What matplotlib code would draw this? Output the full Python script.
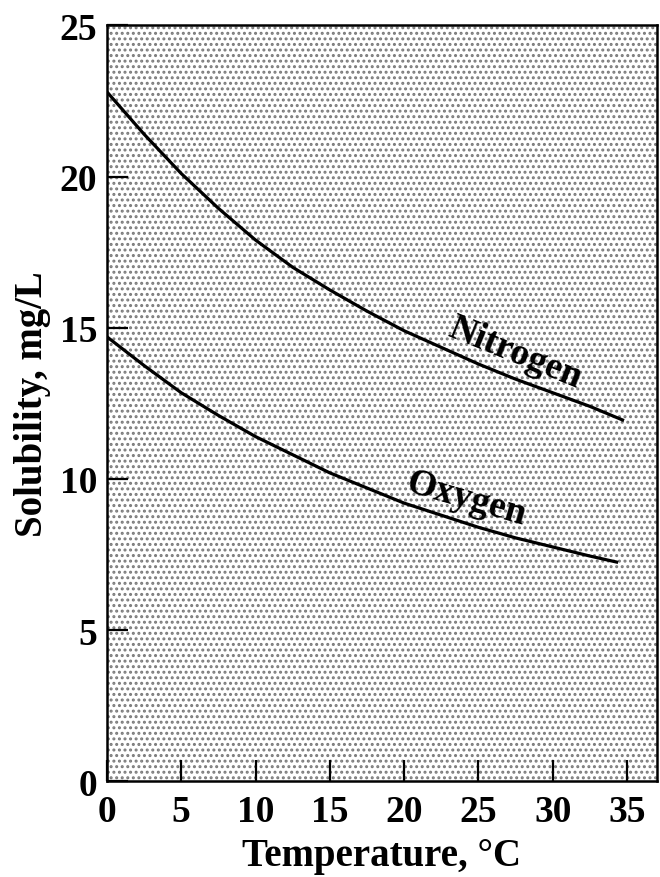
import numpy as np
import matplotlib
matplotlib.use('Agg')
import matplotlib.pyplot as plt
from matplotlib.patches import Rectangle

# values
temp_n = [0, 2.5, 5, 7.5, 10, 12.5, 15, 17.5, 20, 22.5, 25, 27.5, 30, 32.5, 34.7]
nitrogen = [22.8, 21.4, 20.1, 18.95, 17.9, 17.0, 16.25, 15.55, 14.9, 14.35, 13.8, 13.3, 12.85, 12.4, 11.95]
temp_o = [0, 2.5, 5, 7.5, 10, 12.5, 15, 17.5, 20, 22.5, 25, 27.5, 30, 32.5, 34.3]
oxygen = [14.7, 13.75, 12.85, 12.1, 11.4, 10.8, 10.2, 9.7, 9.2, 8.8, 8.4, 8.05, 7.75, 7.45, 7.25]
xticks = [0, 5, 10, 15, 20, 25, 30, 35]
yticks = [0, 5, 10, 15, 20, 25]

plt.rcParams['font.family'] = ['Liberation Serif', 'DejaVu Serif']
plt.rcParams['font.weight'] = 'bold'
plt.rcParams['hatch.linewidth'] = 1.4
plt.rcParams['hatch.color'] = '#7a7a7a'

fig = plt.figure(figsize=(6.6, 8.78), dpi=100)
ax = fig.add_axes([0.162, 0.109, 0.833, 0.861])

# stippled background
ax.add_patch(Rectangle((0, 0), 1, 1, transform=ax.transAxes, facecolor='white',
                       edgecolor='#7a7a7a', hatch='...', lw=0, zorder=0))

ax.plot(temp_n, nitrogen, color='black', lw=2.3, zorder=3, solid_joinstyle='round')
ax.plot(temp_o, oxygen, color='black', lw=2.3, zorder=3, solid_joinstyle='round')

ax.text(27.5, 14.2, 'Nitrogen', rotation=-22, fontsize=27, fontweight='bold',
        ha='center', va='center', zorder=4)
ax.text(24.2, 9.35, 'Oxygen', rotation=-16, fontsize=27, fontweight='bold',
        ha='center', va='center', zorder=4)

ax.set_xlim(0, 37)
ax.set_ylim(0, 25)
ax.set_xticks(xticks)
ax.set_yticks(yticks)
ax.tick_params(direction='in', length=15, width=1.6, labelsize=27)
ax.tick_params(axis='x', pad=9)
ax.tick_params(axis='y', pad=7)
for s in ax.spines.values():
    s.set_linewidth(1.8)
    s.set_zorder(5)

ax.set_xlabel('Temperature, °C', fontsize=28, fontweight='bold', labelpad=6)
ax.set_ylabel('Solubility, mg/L', fontsize=28, fontweight='bold', labelpad=6)

fig.savefig('out.png', dpi=100)
